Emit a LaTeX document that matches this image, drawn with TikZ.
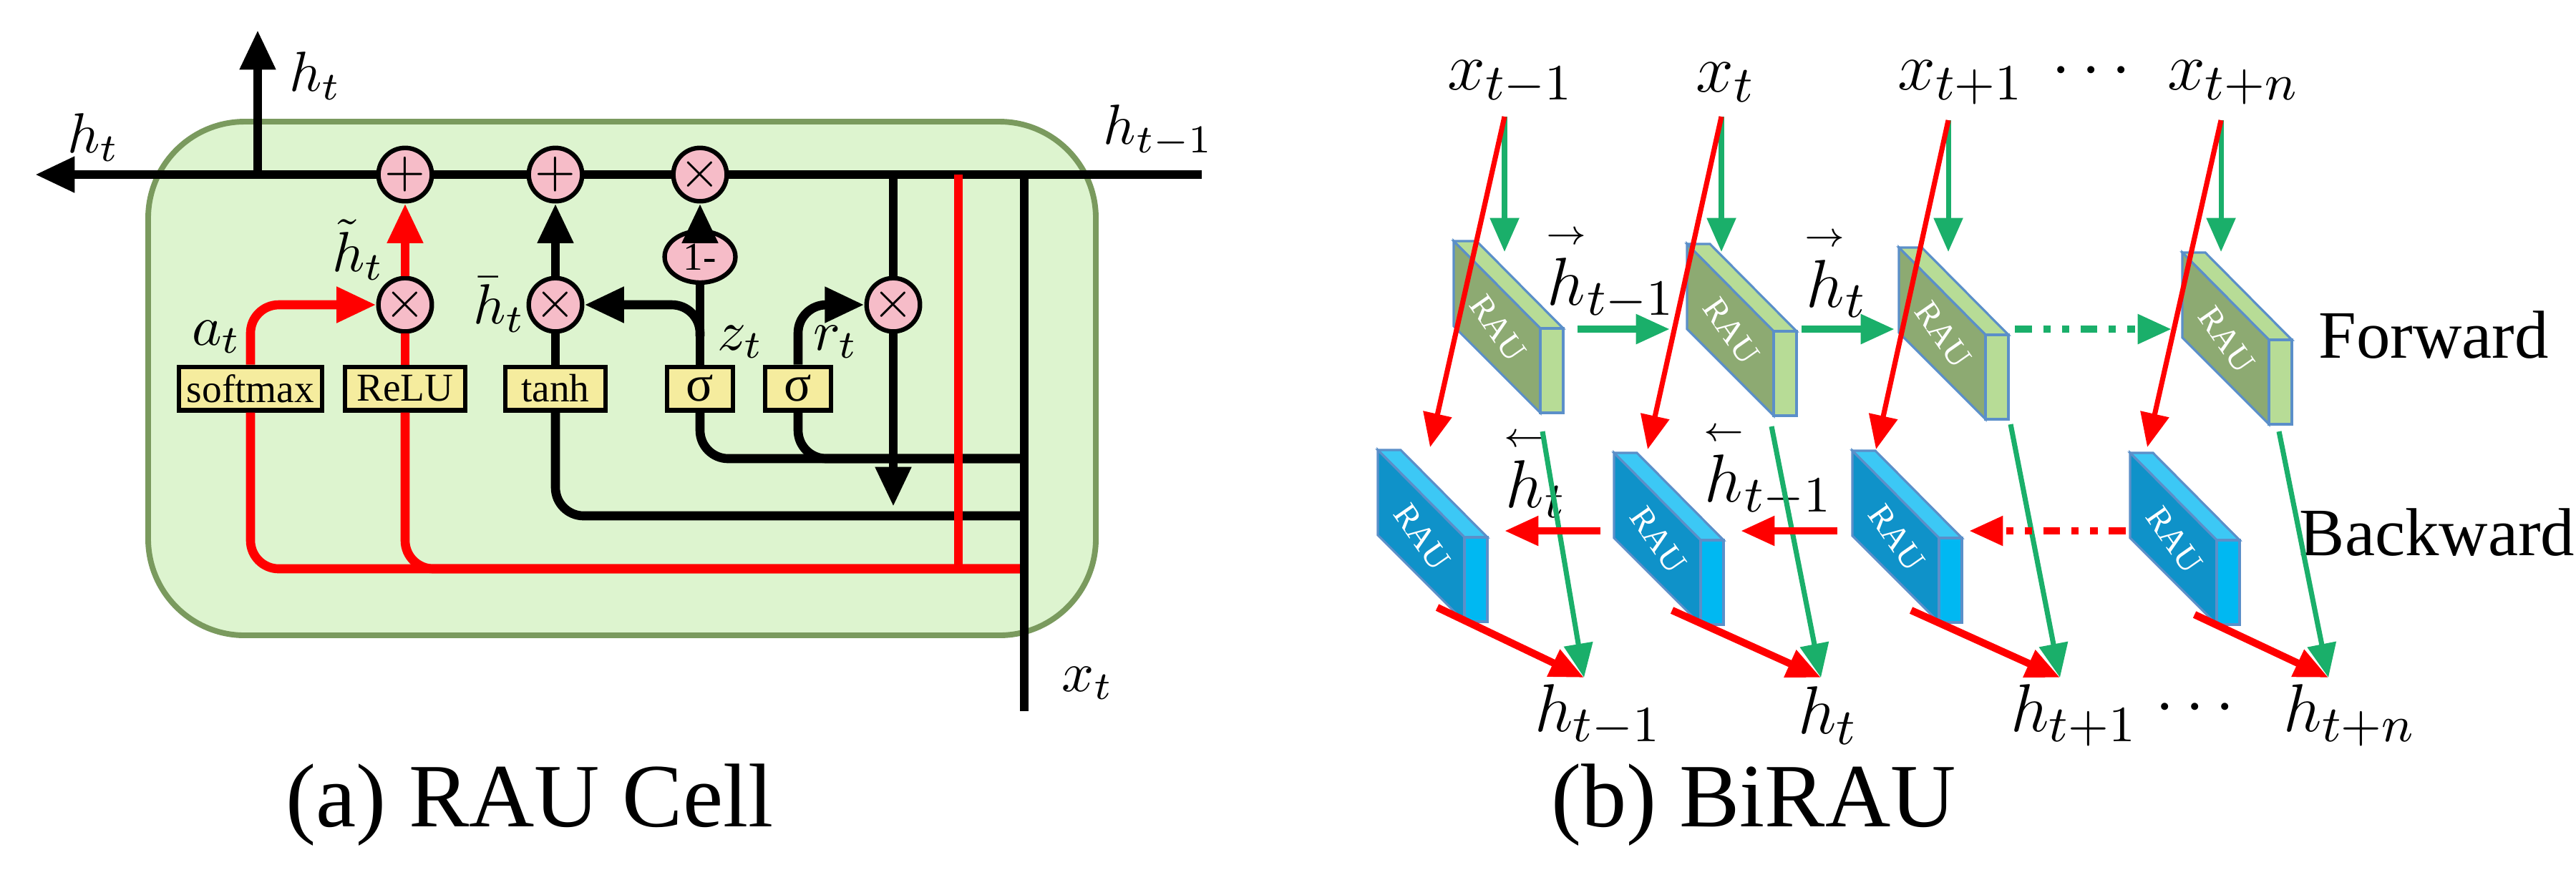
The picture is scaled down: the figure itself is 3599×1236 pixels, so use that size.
\documentclass[tikz,border=0pt]{standalone}
\usepackage{amsmath}
\usepackage{fontspec}
\setmainfont{Liberation Serif}
\newfontfamily\capfont{Liberation Serif}
\usepackage{tikz}
\usetikzlibrary{arrows.meta,positioning,shapes.geometric}

\definecolor{cellfill}{HTML}{DDF4CF}
\definecolor{celledge}{HTML}{7A9A5E}
\definecolor{oppink}{HTML}{F6BCC8}
\definecolor{boxyellow}{HTML}{F5EC9E}
\definecolor{arrgreen}{HTML}{1AAF6A}
\definecolor{fwdark}{HTML}{8DAA72}
\definecolor{fwlight}{HTML}{B7DC96}
\definecolor{bwdark}{HTML}{0F92C9}
\definecolor{bwside}{HTML}{00B8F2}
\definecolor{bwtop}{HTML}{3CC8F5}
\definecolor{blockedge}{HTML}{5B8FC9}

\newcommand{\fwh}[1]{\overset{\scriptscriptstyle\rightarrow}{h}_{#1}}
\newcommand{\bwh}[1]{\overset{\scriptscriptstyle\leftarrow}{h}_{#1}}

\tikzset{
  thickline/.style={line width=1.6pt, rounded corners=5pt},
  redline/.style={thickline, red},
  tip/.style={-{Triangle[length=7pt,width=6pt]}},
  op/.style={circle, draw, line width=0.8pt, fill=oppink, minimum size=3mm, inner sep=0pt, font=\small},
  gate/.style={draw, line width=0.8pt, fill=boxyellow, minimum height=2.7mm, inner sep=1pt, font=\scriptsize},
  thinarrow/.style={line width=0.9pt, -{Triangle[length=6pt,width=5pt]}},
  flat/.style={line width=1.3pt, -{Triangle[length=6pt,width=5pt]}},
  rau/.style={text=white, font=\fontsize{6}{6}\selectfont, rotate=-55},
  biglabel/.style={font=\fontsize{13}{15}\selectfont},
  caption/.style={font=\capfont\fontsize{16}{19}\selectfont},
}

\newcommand{\raublock}[5]{%
  \begin{scope}[shift={(#1,#2)}]
    \filldraw[fill=#4, draw=blockedge, line width=0.4pt] (0,0) -- (32,0) -- (153,122) -- (121,122) -- cycle;
    \filldraw[fill=#3, draw=blockedge, line width=0.4pt] (0,0) -- (121,122) -- (121,240) -- (0,119) -- cycle;
    \filldraw[fill=#5, draw=blockedge, line width=0.4pt] (121,122) -- (153,122) -- (153,240) -- (121,240) -- cycle;
    \node[rau] at (62,122) {RAU};
  \end{scope}}

\begin{document}
\begin{tikzpicture}[x=0.0445mm,y=-0.0445mm]
  \useasboundingbox (0,0) rectangle (3599,1236);

  % RAU cell
  \filldraw[fill=cellfill, draw=celledge, line width=1pt, rounded corners=6mm] (207,170) rectangle (1531,888);

  \coordinate (h_in) at (1679,244);
  \coordinate (h_out) at (49,244);
  \coordinate (h_j) at (360,244);
  \coordinate (h_up) at (360,42);
  \draw[thickline, tip] (h_in) -- (h_out);
  \draw[thickline, tip] (h_j) -- (h_up);
  \node at (441,106) {$h_t$};
  \node at (131,192) {$h_t$};
  \node at (1619,183) {$h_{t-1}$};

  \node[gate, minimum width=8.9mm] (g_sm) at (350,543) {softmax};
  \node[gate, minimum width=7.5mm] (g_relu) at (566,543) {ReLU};
  \node[gate, minimum width=6.2mm] (g_tanh) at (776,543) {tanh};
  \node[gate, minimum width=4.1mm, font=\small] (g_z) at (978,543) {σ};
  \node[gate, minimum width=4.1mm, font=\small] (g_r) at (1115,543) {σ};

  % right side lines
  \coordinate (c_r) at (1248,244);
  \coordinate (c_ar) at (1248,708);
  \coordinate (c_red1) at (1339,244);
  \coordinate (c_red2) at (1339,795);
  \coordinate (c_x1) at (1431,244);
  \coordinate (c_x2) at (1431,994);
  \coordinate (j_s) at (1431,641);
  \coordinate (j_t) at (1431,721);
  \coordinate (j_r) at (1431,795);
  \coordinate (c_zb) at (978,470);

  \draw[thickline] (g_z.south) |- (j_s);
  \draw[thickline] (g_r.south) |- (j_s);
  \draw[thickline] (g_tanh.south) |- (j_t);
  \draw[redline] (g_sm.south) |- (j_r);
  \draw[redline] (g_relu.south) |- (j_r);
  \draw[redline] (c_red1) -- (c_red2);
  \draw[thickline] (c_x1) -- (c_x2);
  \node at (1520,955) {$x_t$};

  \node[op] (m_a) at (566,426) {$\times$};
  \node[op] (m_b) at (776,426) {$\times$};
  \node[op] (m_r) at (1248,426) {$\times$};
  \node[ellipse, draw, line width=0.8pt, fill=oppink, minimum width=4.4mm, minimum height=3.2mm, inner sep=0pt, font=\scriptsize] (o_m) at (978,359) {1-};
  \node[op] (p_a) at (566,244) {$+$};
  \node[op] (p_b) at (776,244) {$+$};
  \node[op] (p_c) at (978,244) {$\times$};

  \draw[redline, tip] (g_sm.north) |- (m_a.west);
  \draw[redline] (g_relu.north) -- (m_a.south);
  \draw[redline, tip] (m_a.north) -- (p_a.south);
  \draw[thickline] (g_tanh.north) -- (m_b.south);
  \draw[thickline, tip] (m_b.north) -- (p_b.south);
  \draw[thickline] (g_z.north) -- (o_m.south);
  \draw[thickline, tip] (o_m.north) -- (p_c.south);
  \draw[thickline, tip] (c_zb) |- (m_b.east);
  \draw[thickline, tip] (g_r.north) |- (m_r.west);
  \draw[thickline] (c_r) -- (m_r.north);
  \draw[thickline, tip] (m_r.south) -- (c_ar);

  \node at (303,471) {$a_t$};
  \node at (501,349) {$\tilde{h}_t$};
  \node at (698,426) {$\bar{h}_t$};
  \node at (1035,478) {$z_t$};
  \node at (1168,478) {$r_t$};

  % BiRAU
  \foreach \x/\y in {2031/337, 2357/341, 2653/346, 3049/353}
    \raublock{\x}{\y}{fwdark}{fwlight}{fwlight};
  \foreach \x/\y in {1925/629, 2255/633, 2588/630, 2976/633}
    \raublock{\x}{\y}{bwdark}{bwtop}{bwside};

  \begin{scope}[biglabel]
    \node (x_1) at (2111,115) {$x_{t-1}$};
    \node (x_2) at (2411,115) {$x_t$};
    \node (x_3) at (2740,115) {$x_{t+1}$};
    \node (x_4) at (3120,115) {$x_{t+n}$};
    \node at (2930,100) {$\cdots$};
    \node (h_1) at (2233,1000) {$h_{t-1}$};
    \node (h_2) at (2554,1000) {$h_t$};
    \node (h_3) at (2898,1000) {$h_{t+1}$};
    \node (h_4) at (3283,1000) {$h_{t+n}$};
    \node at (3075,990) {$\cdots$};
    \node at (2250,380) {$\fwh{t-1}$};
    \node at (2565,380) {$\fwh{t}$};
    \node at (2145,660) {$\bwh{t}$};
    \node at (2470,655) {$\bwh{t-1}$};
  \end{scope}
  \node[font=\large] at (3400,468) {Forward};
  \node[font=\large] at (3405,744) {Backward};

  % green inputs and outputs
  \foreach \i/\xs/\xe/\ys/\ye/\xo/\yo/\xt in {1/2102/1998/163/625/2155/603/2213, 2/2405/2302/163/628/2475/596/2544, 3/2722/2621/168/628/2809/593/2878, 4/3103/3000/168/625/3184/603/3253} {
    \coordinate (in_\i) at (\xs,\ys);
    \coordinate (fa_\i) at (\xs,352);
    \coordinate (ba_\i) at (\xe,\ye);
    \coordinate (fo_\i) at (\xo,\yo);
    \coordinate (ho_\i) at (\xt,947);
    \draw[thinarrow, arrgreen] (in_\i) -- (fa_\i);
    \draw[thinarrow, red] (in_\i) -- (ba_\i);
    \draw[thinarrow, arrgreen] (fo_\i) -- (ho_\i);
  }
  \foreach \i/\xb/\yb in {1/2008/849, 2/2336/853, 3/2670/853, 4/3066/859} {
    \coordinate (bo_\i) at (\xb,\yb);
    \draw[flat, red] (bo_\i) -- (ho_\i);
  }

  % recurrent arrows
  \coordinate (fr_1) at (2204,460);
  \coordinate (fr_2) at (2333,460);
  \coordinate (fr_3) at (2517,460);
  \coordinate (fr_4) at (2647,460);
  \coordinate (fr_5) at (2815,460);
  \coordinate (fr_6) at (3034,460);
  \draw[flat, arrgreen] (fr_1) -- (fr_2);
  \draw[flat, arrgreen] (fr_3) -- (fr_4);
  \draw[flat, arrgreen, dash dot dot] (fr_5) -- (fr_6);
  \coordinate (br_1) at (2236,742);
  \coordinate (br_2) at (2102,742);
  \coordinate (br_3) at (2567,742);
  \coordinate (br_4) at (2432,742);
  \coordinate (br_5) at (2970,742);
  \coordinate (br_6) at (2751,742);
  \draw[flat, red] (br_1) -- (br_2);
  \draw[flat, red] (br_3) -- (br_4);
  \draw[flat, red, dash dot dot] (br_5) -- (br_6);

  % captions
  \node[caption] (cap_a) at (740,1125) {(a) RAU Cell};
  \node[caption] (cap_b) at (2450,1125) {(b) BiRAU};
\end{tikzpicture}
\end{document}
